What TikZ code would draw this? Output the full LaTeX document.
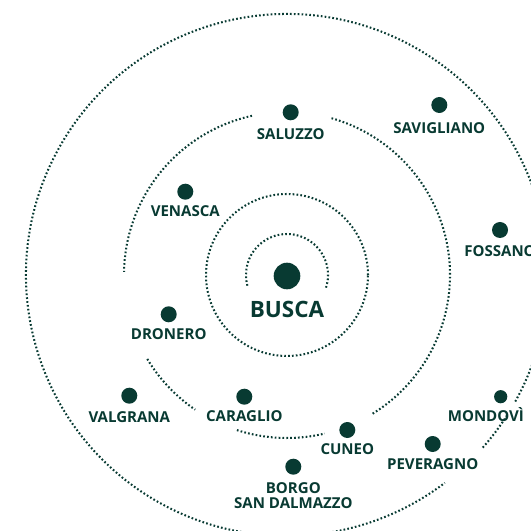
\documentclass[tikz,border=0pt]{standalone}
\usepackage{fontspec}
\setsansfont{Open Sans}
\usetikzlibrary{positioning}
\definecolor{pine}{RGB}{8,58,50}

\begin{document}
\begin{tikzpicture}[x=0.025cm, y=0.025cm,
  ring/.style={pine, line width=1.45pt, dash pattern=on 1.2pt off 1.55pt},
  town/.style={circle, fill=pine, inner sep=0pt, minimum size=0.4cm},
  townname/.style={text=pine, inner sep=0pt, text height=7.6pt, text depth=0pt, align=center,
    font=\sffamily\bfseries\fontsize{10.7}{10.7}\selectfont}]

\useasboundingbox (-287,-256) rectangle (244,275);
\clip (-287,-256) rectangle (244,275);

\draw [ring] (-18:41) arc [start angle=-18, end angle=198, radius=41];
\draw [ring] (0,0) circle [radius=81];
\draw [ring] (-58.3:163) arc [start angle=-58.3, end angle=74.7, radius=163];
\draw [ring] (102.4:163) arc [start angle=102.4, end angle=178.9, radius=163];
\draw [ring] (211:163) arc [start angle=211, end angle=235.7, radius=163];
\draw [ring] (252.1:163) arc [start angle=252.1, end angle=283.4, radius=163];
\draw [ring] (-29:261) arc [start angle=-29, end angle=307.2, radius=261];
\draw [ring] (-41.4:261) arc [start angle=-41.4, end angle=-32.7, radius=261];

\node [town, minimum size=0.665cm] (busca) at (0,-1) {};
\node [townname, text height=11.4pt, font=\sffamily\bfseries\fontsize{16}{16}\selectfont,
  below=0.3cm of busca] (busca-name) {BUSCA};

\node [town] (saluzzo) at (3.7,162.7) {};
\node [townname, below=0.2cm of saluzzo] (saluzzo-name) {SALUZZO};
\node [town] (savigliano) at (152.3,170) {};
\node [townname, below=0.22cm of savigliano] (savigliano-name) {SAVIGLIANO};
\node [town] (venasca) at (-101.7,83.3) {};
\node [townname, below=0.15cm of venasca] (venasca-name) {VENASCA};
\node [town] (fossano) at (213,45) {};
\node [townname, below=0.17cm of fossano] (fossano-name) {FOSSANO};
\node [town] (dronero) at (-118.3,-39.3) {};
\node [townname, below=0.16cm of dronero] (dronero-name) {DRONERO};
\node [town] (valgrana) at (-157.7,-120.7) {};
\node [townname, below=0.2cm of valgrana] (valgrana-name) {VALGRANA};
\node [town] (caraglio) at (-42.7,-121.7) {};
\node [townname, below=0.15cm of caraglio] (caraglio-name) {CARAGLIO};
\node [town] (cuneo) at (60.3,-155) {};
\node [townname, below=0.14cm of cuneo] (cuneo-name) {CUNEO};
\node [town] (peveragno) at (145.7,-169) {};
\node [townname, below=0.16cm of peveragno] (peveragno-name) {PEVERAGNO};
\node [town, minimum size=0.33cm] (mondovi) at (213.7,-121.7) {};
\node [townname, below=0.17cm of mondovi, xshift=-0.37cm] (mondovi-name) {MONDOVÌ};
\node [town] (borgo) at (6.3,-191.7) {};
\node [townname, text height=18.3pt, below=0.18cm of borgo] (borgo-name) {BORGO\\SAN DALMAZZO};

\end{tikzpicture}
\end{document}
